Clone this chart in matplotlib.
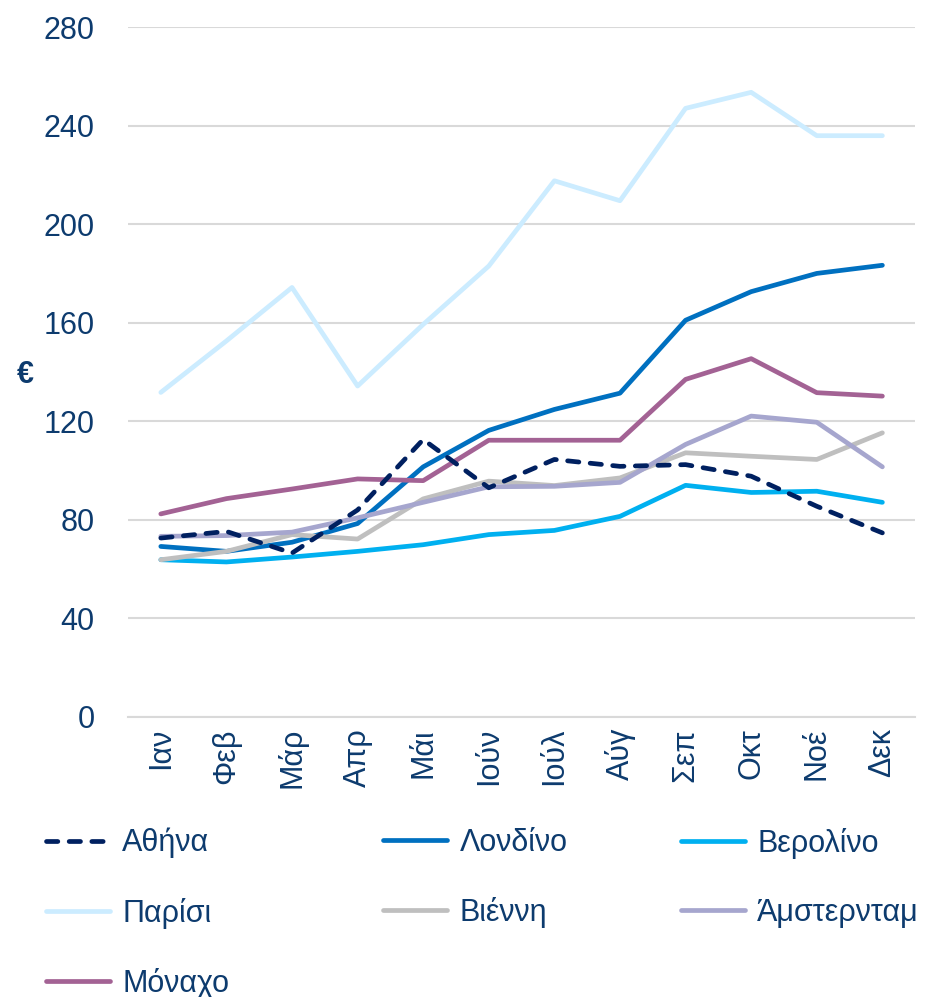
import numpy as np
import matplotlib
matplotlib.use('Agg')
import matplotlib.pyplot as plt

plt.rcParams['font.family'] = ['Liberation Sans', 'DejaVu Sans']

months = ['Ιαν', 'Φεβ', 'Μάρ', 'Απρ', 'Μάι', 'Ιούν', 'Ιούλ', 'Αύγ', 'Σεπ', 'Οκτ', 'Νοέ', 'Δεκ']

athens = [72.6, 75.3, 66.5, 84, 112.6, 93, 104.5, 101.7, 102.4, 97.7, 85.5, 74.7]
london = [69.2, 67.2, 70.9, 78.5, 101.5, 116.3, 124.8, 131.4, 161, 172.6, 180, 183.3]
berlin = [63.8, 62.9, 64.9, 67.2, 69.9, 74, 75.7, 81.4, 94, 91.1, 91.6, 87.1]
paris = [131.7, 152.6, 174.3, 134.3, 159.3, 183, 217.6, 209.5, 247, 253.5, 235.9, 235.9]
vienna = [63.8, 67.2, 74, 72.2, 88.5, 95.7, 93.9, 97, 107.2, 105.8, 104.5, 115.3]
amsterdam = [73.3, 73.6, 75, 80.8, 87.1, 93.4, 93.6, 95.2, 110.6, 122.1, 119.6, 101.5]
munich = [82.4, 88.6, 92.5, 96.6, 95.9, 112.3, 112.3, 112.3, 137, 145.4, 131.6, 130.2]

names = ['Αθήνα', 'Λονδίνο', 'Βερολίνο', 'Παρίσι', 'Βιέννη', 'Άμστερνταμ', 'Μόναχο']
series = [athens, london, berlin, paris, vienna, amsterdam, munich]
colors = ['#002060', '#0070C0', '#00B0F0', '#CCECFF', '#BFBFBF', '#A6A6CE', '#A36294']

txt = '#0D3B6E'
fs = 22
lw = 3.4

fig = plt.figure(figsize=(9.31, 9.97), dpi=100)
ax = fig.add_axes([0.1375, 0.2809, 0.8455, 0.692])

x = np.arange(len(months))
handles = []
for i, (name, vals, c) in enumerate(zip(names, series, colors)):
    if name == 'Αθήνα':
        ln, = ax.plot(x, vals, color=c, lw=lw, dashes=(2.4, 2.4),
                      dash_capstyle='round', zorder=10, label=name)
    else:
        ln, = ax.plot(x, vals, color=c, lw=lw, solid_capstyle='round',
                      zorder=3 + i, label=name)
    handles.append(ln)

ax.set_xlim(-0.5, 11.5)
ax.set_ylim(0, 280)
ax.set_yticks(np.arange(0, 281, 40))
ax.set_xticks(x)
ax.set_xticklabels(months, rotation=90, fontsize=fs, color=txt)
ax.tick_params(axis='y', labelsize=fs, labelcolor=txt, length=0, pad=24)
ax.tick_params(axis='x', length=0, pad=8)
ax.grid(axis='y', color='#D9D9D9', lw=1.5)
ax.set_axisbelow(True)
for s in ['top', 'right', 'left']:
    ax.spines[s].set_visible(False)
ax.spines['bottom'].set_color('#D9D9D9')
ax.spines['bottom'].set_linewidth(1.5)

fig.text(25 / 931, 1 - 375 / 997, '€', fontsize=fs, fontweight='bold',
         color=txt, ha='center', va='center')

# legend: three columns placed separately
cols = [[0, 3, 6], [1, 4], [2, 5]]
col_x = [46 / 931, 383 / 931, 681 / 931]
for cx, idx in zip(col_x, cols):
    leg = fig.legend([handles[k] for k in idx], [names[k] for k in idx],
                     loc='upper left', bbox_to_anchor=(cx, 1 - 828 / 997),
                     frameon=False, fontsize=fs, handlelength=2.1,
                     handletextpad=0.4, labelspacing=1.28, borderaxespad=0,
                     borderpad=0)
    for t in leg.get_texts():
        t.set_color(txt)

fig.savefig('out.png', dpi=100)
